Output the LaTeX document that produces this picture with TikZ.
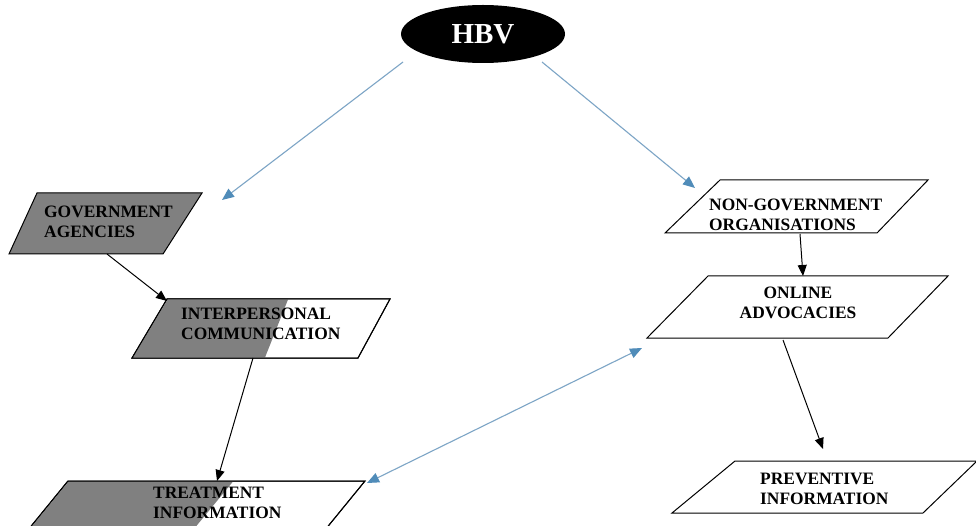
\documentclass[tikz,border=0pt]{standalone}
\usepackage{fontspec}
\setmainfont{Liberation Serif}
\usetikzlibrary{arrows.meta,shapes.geometric}
\definecolor{boxgray}{RGB}{128,128,128}
\definecolor{linkblue}{RGB}{125,165,198}
\definecolor{tipblue}{RGB}{80,140,185}
\tikzset{
  box/.style={draw=black,line width=1pt,fill=white,line join=miter},
  graypart/.style={fill=boxgray,draw=none},
  label/.style={font=\fontsize{17.4}{20}\selectfont\bfseries,inner sep=0pt,align=left},
  blk/.style={draw=black,line width=1pt,-{Triangle[length=11pt,width=9pt]}},
  blu/.style={draw=linkblue,line width=1.1pt,-{Triangle[length=12pt,width=10pt,color=tipblue]}},
  blu2/.style={draw=linkblue,line width=1.1pt,{Triangle[length=12pt,width=10pt,color=tipblue]}-{Triangle[length=12pt,width=10pt,color=tipblue]}}
}
\begin{document}
\begin{tikzpicture}[x=1pt,y=-1pt]
\useasboundingbox (0,0) rectangle (976,526);
\clip (0,0) rectangle (976,526);
\fill[white] (0,0) rectangle (976,526);

% HBV
\node[ellipse,fill=black,minimum width=164pt,minimum height=58pt,inner sep=0pt,
      text=white,font=\fontsize{29}{30}\selectfont\bfseries] (hbv) at (483,34) {HBV};

% Government agencies
\path[box,fill=boxgray] (37,193) -- (202,193) -- (163,254) -- (9,254) -- cycle;
\node[label,anchor=west] (ga) at (44,222) {GOVERNMENT\\AGENCIES};

% Interpersonal communication
\path[box] (167,299) -- (390,299) -- (358,358) -- (132,358) -- cycle;
\path[graypart] (167.5,299.5) -- (288,299.5) -- (265,357.5) -- (132.8,357.5) -- cycle;
\draw[line width=1pt] (167,299) -- (390,299) -- (358,358) -- (132,358) -- cycle;
\node[label,anchor=west] (ic) at (181,324) {INTERPERSONAL\\COMMUNICATION};

% Treatment information
\path[box] (68,481) -- (365,481) -- (316,541) -- (19,541) -- cycle;
\path[graypart] (68.5,481.5) -- (233,481.5) -- (184,541) -- (19.8,541) -- cycle;
\draw[line width=1pt] (68,481) -- (365,481) -- (316,541) -- (19,541) -- cycle;
\node[label,anchor=west] (ti) at (153,503) {TREATMENT\\INFORMATION};

% Non-government organisations
\path[box] (720,180) -- (928,180) -- (877,233) -- (665,233) -- cycle;
\node[label,anchor=west] (ngo) at (709,215) {NON-GOVERNMENT\\ORGANISATIONS};

% Online advocacies
\path[box] (708,276) -- (948,276) -- (888,338) -- (647,338) -- cycle;
\node[label,align=center] (oa) at (798,303) {ONLINE\\ADVOCACIES};

% Preventive information
\path[box] (735,461) -- (977,461) -- (923,513) -- (672,513) -- cycle;
\node[label,anchor=west] (pi) at (760,489) {PREVENTIVE\\INFORMATION};

% connector end points
\coordinate (hbv-l) at (403,62);
\coordinate (hbv-r) at (542,62);
\coordinate (ga-in) at (222,200);
\coordinate (ngo-in) at (695,188);
\coordinate (ga-out) at (107,254);
\coordinate (ic-in) at (167,301);
\coordinate (ic-out) at (253,358);
\coordinate (ti-in) at (217,481);
\coordinate (ngo-out) at (800,234);
\coordinate (oa-in) at (803,276);
\coordinate (oa-out) at (783,340);
\coordinate (pi-in) at (823,449);
\coordinate (oa-l) at (642,348);
\coordinate (ti-r) at (367,483);

% connectors
\draw[blu] (hbv-l) -- (ga-in);
\draw[blu] (hbv-r) -- (ngo-in);
\draw[blk] (ga-out) -- (ic-in);
\draw[blk] (ic-out) -- (ti-in);
\draw[blk] (ngo-out) -- (oa-in);
\draw[blk] (oa-out) -- (pi-in);
\draw[blu2] (ti-r) -- (oa-l);
\end{tikzpicture}
\end{document}
